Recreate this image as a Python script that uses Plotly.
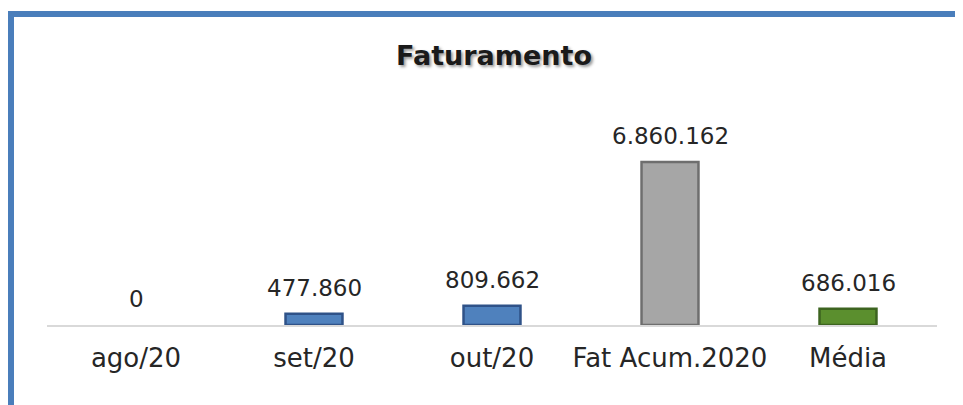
import plotly.graph_objects as go

categories = ["ago/20", "set/20", "out/20", "Fat Acum.2020", "Média"]
values = [0, 477860, 809662, 6860162, 686016]
bar_colors = ["#4F81BD", "#4F81BD", "#4F81BD", "#A6A6A6", "#5B8F2E"]
edge_colors = ["#2F5288", "#2F5288", "#2F5288", "#6E6E6E", "#3D6420"]
edge_widths = [0, 2.5, 2.5, 2.5, 2.5]

OFF = 8  # page body margin
W, H = 963 - OFF, 405 - OFF
# plot area in page pixels: x 47..937, y 100..325
L = 47 - OFF
R = (W + OFF) - 937
T = 100 - OFF
B = (H + OFF) - 325
pw, ph = W - L - R, H - T - B

def px_x(px):
    return (px - OFF - L) / pw

def px_y(py):
    return (H - B - (py - OFF)) / ph

fig = go.Figure()
fig.add_trace(go.Bar(
    x=categories, y=values,
    marker=dict(color=bar_colors, line=dict(color=edge_colors, width=edge_widths)),
    width=0.32,
    cliponaxis=False,
    hoverinfo="skip",
))

annotations = [
    dict(x=c, y=v, xref="x", yref="y", text=f"{v:,}".replace(",", "."), showarrow=False,
         yanchor="bottom", yshift=11,
         font=dict(family="DejaVu Sans", size=23, color="#262626"))
    for c, v in zip(categories, values)
]

border = "#4A7EBB"
fig.update_layout(
    width=W, height=H,
    margin=dict(l=L, r=R, t=T, b=B),
    paper_bgcolor="#FFFFFF",
    plot_bgcolor="#FFFFFF",
    showlegend=False,
    annotations=annotations,
    title=dict(text="<b>Faturamento</b>", x=(494 - OFF) / W, xanchor="center", y=1 - (56 - OFF) / H, yanchor="middle",
               font=dict(family="DejaVu Sans", size=27, color="#1A1A1A", shadow="2px 2px 3px #999999")),
    xaxis=dict(showgrid=False, zeroline=False, showline=True, linecolor="#D9D9D9", linewidth=2,
               ticks="outside", ticklen=9, tickcolor="rgba(0,0,0,0)",
               tickfont=dict(family="DejaVu Sans", size=26, color="#262626")),
    yaxis=dict(visible=False, range=[0, 6860162 * ph / 163], fixedrange=True),
    shapes=[
        dict(type="line", xref="paper", yref="paper", x0=px_x(8), x1=px_x(975), y0=px_y(14), y1=px_y(14),
             line=dict(color=border, width=6)),
        dict(type="line", xref="paper", yref="paper", x0=px_x(11), x1=px_x(11), y0=px_y(11), y1=px_y(420),
             line=dict(color=border, width=6)),
    ],
)

fig.write_html("out.html")
